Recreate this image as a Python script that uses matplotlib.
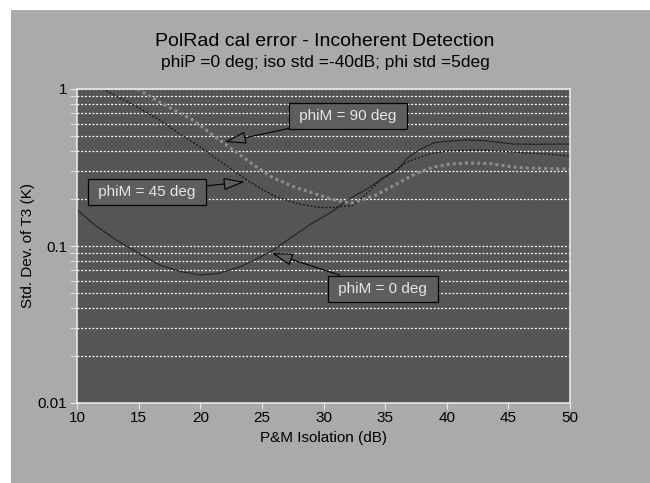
import numpy as np
import matplotlib
matplotlib.use("Agg")
import matplotlib.pyplot as plt
from matplotlib.patches import Rectangle

# dados (isolacao em dB x desvio padrao de T3 em K)
iso_0 = [10, 11.5, 13.2, 15, 16.7, 18.3, 20.0, 21.5, 23.2, 24.5, 25.9, 27.5, 29.1, 30.5, 32.2,
         33.5, 34.6, 36.0, 36.8, 37.8, 38.9, 40, 41.6, 43, 45.4, 47.5, 50]
std_0 = [0.170, 0.135, 0.109, 0.09, 0.0757, 0.069, 0.0654, 0.067, 0.0735, 0.082, 0.094, 0.115, 0.14,
         0.162, 0.202, 0.23, 0.263, 0.305, 0.363, 0.41, 0.453, 0.465, 0.473, 0.47, 0.446, 0.445, 0.446]

iso_45 = [12.1, 14.5, 16.7, 18.3, 20.0, 22, 23.8, 25, 26.2, 28, 29.7, 31, 32.4, 33.5, 34.6, 35.7,
          36.8, 38.5, 40.0, 42.7, 45.4, 48, 50]
std_45 = [1.0, 0.8, 0.635, 0.52, 0.427, 0.33, 0.263, 0.23, 0.205, 0.185, 0.176, 0.176, 0.182, 0.215,
          0.263, 0.30, 0.343, 0.385, 0.403, 0.409, 0.397, 0.385, 0.374]

iso_90 = [14.9, 17, 19.4, 21, 22.7, 24.3, 25.9, 27.5, 29.1, 30.7, 32.3, 34.2, 36.0, 37.5, 38.9,
          40.2, 41.6, 43.5, 45.4, 47.5, 50]
std_90 = [1.0, 0.8, 0.635, 0.51, 0.408, 0.33, 0.272, 0.24, 0.218, 0.198, 0.188, 0.21, 0.25, 0.29,
          0.318, 0.332, 0.338, 0.335, 0.318, 0.312, 0.309]

rotulos = [" phiM = 0 deg ", " phiM = 45 deg ", " phiM = 90 deg "]
pontas = [(25.8, 0.0902), (23.6, 0.256), (22.0, 0.46)]
caixas = [(34.8, 0.0532), (15.7, 0.221), (32.0, 0.673)]

FUNDO = "#aaaaaa"
EIXO = "#555555"

plt.rcParams["font.family"] = ["Liberation Sans", "DejaVu Sans"]

fig = plt.figure(figsize=(6.5, 4.83), dpi=100, facecolor="white")
fig.patches.append(Rectangle((11 / 650, 0), 1, 1 - 10 / 483, transform=fig.transFigure,
                             facecolor=FUNDO, edgecolor="none", zorder=-10))
ax = fig.add_axes([77 / 650, 1 - 403 / 483, 493 / 650, 314 / 483])
ax.set_facecolor(EIXO)

ax.set_yscale("log")
ax.set_xlim(10, 50)
ax.set_ylim(0.01, 1)
ax.set_xticks(range(10, 51, 5))
ax.set_yticks([0.01, 0.1, 1])
ax.set_yticklabels(["0.01", "0.1", "1"])
ax.tick_params(axis="both", which="both", direction="out", color="#e8e8e8",
               labelsize=11, labelcolor="black", pad=2)
ax.tick_params(axis="y", which="both", length=5)
ax.tick_params(axis="x", which="major", length=4)
for s in ax.spines.values():
    s.set_color("#e8e8e8")
    s.set_linewidth(1.2)

ax.grid(True, which="both", axis="y", color="white", linestyle=(0, (1.5, 1.5)), linewidth=0.9)
ax.set_axisbelow(True)

ax.plot(iso_0, std_0, color="#222222", linewidth=0.8)
ax.plot(iso_45, std_45, color="#111111", linewidth=0.9, linestyle=(0, (1.5, 1.5)))
ax.plot(iso_90, std_90, color="#8c8c8c", linewidth=2.2, linestyle=(0, (1, 1)))

for rot, pt, cx in zip(rotulos, pontas, caixas):
    ax.annotate(rot, xy=pt, xytext=cx, ha="center", va="center", fontsize=11, color="#e6e6e6",
                bbox=dict(boxstyle="square,pad=0.42", facecolor="#5e5e5e", edgecolor="black", linewidth=0.9),
                arrowprops=dict(arrowstyle="-|>,head_length=1.2,head_width=0.35", facecolor="#5e5e5e",
                                edgecolor="black", linewidth=0.8, shrinkA=0, shrinkB=0))

ax.set_xlabel("P&M Isolation (dB)", fontsize=11, labelpad=4)
ax.set_ylabel("Std. Dev. of T3 (K)", fontsize=11, labelpad=2)
fig.text(0.5, 1 - 42 / 483, "PolRad cal error - Incoherent Detection", ha="center", va="center", fontsize=14)
fig.text(0.5, 1 - 62 / 483, "phiP =0 deg; iso std =-40dB; phi std =5deg", ha="center", va="center", fontsize=12.5)

fig.savefig("out.png", dpi=100, facecolor="white")
